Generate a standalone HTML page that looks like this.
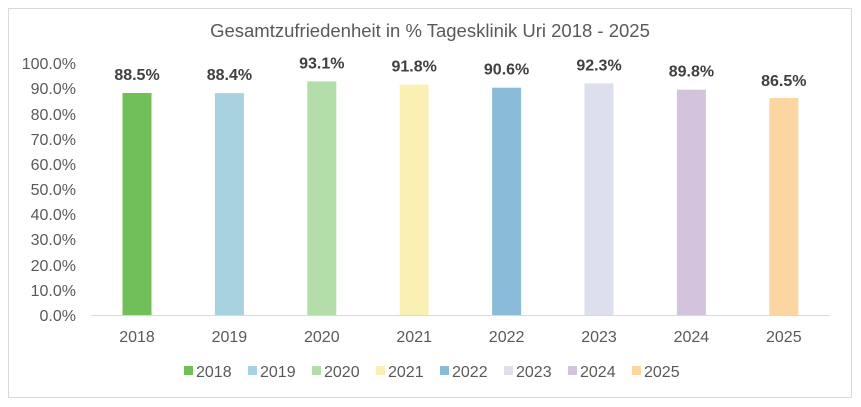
<!DOCTYPE html>
<html><head><style>body{margin:0;background:#fff}svg{display:block}</style></head><body>
<svg width="861" height="407" xmlns="http://www.w3.org/2000/svg" font-family="Liberation Sans, Arial, sans-serif">
<rect x="8.5" y="8.5" width="843" height="389" fill="#fff" stroke="#d9d9d9"/>
<text x="430" y="37" text-anchor="middle" font-size="18.5" fill="#595959">Gesamtzufriedenheit in % Tagesklinik Uri 2018 - 2025</text>
<g font-size="16" fill="#595959" text-anchor="end">
<text x="76" y="321">0.0%</text><text x="76" y="296">10.0%</text><text x="76" y="271">20.0%</text><text x="76" y="245">30.0%</text><text x="76" y="220">40.0%</text><text x="76" y="195">50.0%</text><text x="76" y="170">60.0%</text><text x="76" y="145">70.0%</text><text x="76" y="120">80.0%</text><text x="76" y="94">90.0%</text><text x="76" y="69">100.0%</text>
</g>
<line x1="91" y1="315.5" x2="830" y2="315.5" stroke="#d9d9d9"/>
<g>
<rect x="122.5" y="93" width="29" height="222" fill="#70bf59"/>
<rect x="214.9" y="93.2" width="29" height="221.8" fill="#a6d3df"/>
<rect x="307.3" y="81.4" width="29" height="233.6" fill="#b3dda9"/>
<rect x="399.7" y="84.7" width="29" height="230.3" fill="#fbf0b3"/>
<rect x="492.1" y="87.7" width="29" height="227.3" fill="#8abbd8"/>
<rect x="584.5" y="83.4" width="29" height="231.6" fill="#dddfec"/>
<rect x="676.9" y="89.7" width="29" height="225.3" fill="#d3c3dc"/>
<rect x="769.3" y="98" width="29" height="217" fill="#fbd6a1"/>
</g>
<g font-size="16" font-weight="bold" fill="#404040" text-anchor="middle">
<text x="137" y="80">88.5%</text>
<text x="229.4" y="80">88.4%</text>
<text x="321.8" y="68.4">93.1%</text>
<text x="414.2" y="71.7">91.8%</text>
<text x="506.6" y="74.7">90.6%</text>
<text x="599" y="70.4">92.3%</text>
<text x="691.4" y="76.7">89.8%</text>
<text x="783.8" y="86">86.5%</text>
</g>
<g font-size="16" fill="#595959" text-anchor="middle">
<text x="137" y="342">2018</text><text x="229.4" y="342">2019</text><text x="321.8" y="342">2020</text><text x="414.2" y="342">2021</text><text x="506.6" y="342">2022</text><text x="599" y="342">2023</text><text x="691.4" y="342">2024</text><text x="783.8" y="342">2025</text>
</g>
<g font-size="16" fill="#595959">
<rect x="184" y="366" width="9" height="9" fill="#70bf59"/><text x="196" y="377">2018</text>
<rect x="248" y="366" width="9" height="9" fill="#a6d3df"/><text x="260" y="377">2019</text>
<rect x="312" y="366" width="9" height="9" fill="#b3dda9"/><text x="324" y="377">2020</text>
<rect x="376" y="366" width="9" height="9" fill="#fbf0b3"/><text x="388" y="377">2021</text>
<rect x="440" y="366" width="9" height="9" fill="#8abbd8"/><text x="452" y="377">2022</text>
<rect x="504" y="366" width="9" height="9" fill="#dddfec"/><text x="516" y="377">2023</text>
<rect x="568" y="366" width="9" height="9" fill="#d3c3dc"/><text x="580" y="377">2024</text>
<rect x="632" y="366" width="9" height="9" fill="#fbd6a1"/><text x="644" y="377">2025</text>
</g>
</svg>
</body></html>
